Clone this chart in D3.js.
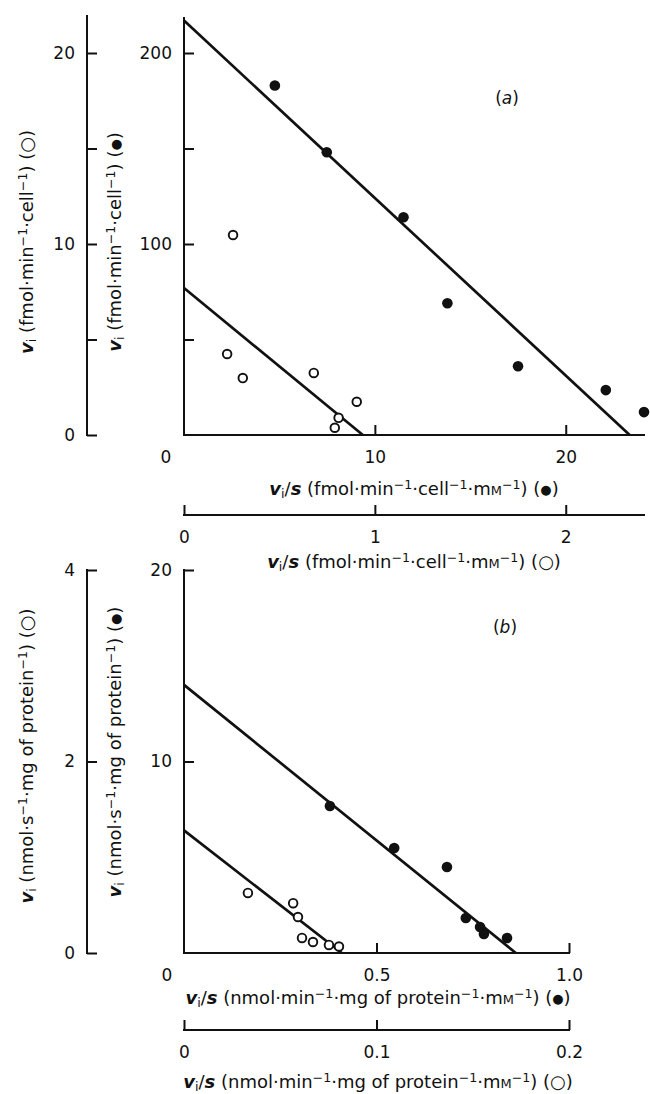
<!DOCTYPE html>
<html>
<head>
<meta charset="utf-8">
<script src="https://cdn.jsdelivr.net/npm/d3@7/dist/d3.min.js"></script>
<style>
  body { margin: 0; background: #fff; }
  svg text { font-family: 'DejaVu Sans', Verdana, sans-serif; fill: #111; }
</style>
</head>
<body>
<div id="chart"></div>
<script>
// ---- data ----
// panel (a): filled circles (inner axes), open circles (outer axes)
var aFilledX = [4.76, 7.48, 11.5, 13.8, 17.5, 22.1, 24.1];
var aFilledY = [183, 148, 114, 69, 36, 23.5, 12];
var aOpenX = [0.257, 0.226, 0.308, 0.68, 0.905, 0.81, 0.79];
var aOpenY = [10.47, 4.24, 2.98, 3.25, 1.74, 0.9, 0.38];
var aFilledFitX = [0, 23.35], aFilledFitY = [217, 0];
var aOpenFitX = [0, 0.937], aOpenFitY = [7.7, 0];

// panel (b)
var bFilledX = [0.379, 0.546, 0.683, 0.732, 0.769, 0.779, 0.839];
var bFilledY = [7.68, 5.48, 4.49, 1.83, 1.36, 0.99, 0.78];
var bOpenX = [0.0332, 0.0567, 0.0592, 0.0613, 0.067, 0.0753, 0.0805];
var bOpenY = [0.627, 0.52, 0.376, 0.157, 0.115, 0.084, 0.068];
var bFilledFitX = [0, 0.862], bFilledFitY = [14.0, 0];
var bOpenFitX = [0, 0.082], bOpenFitY = [1.28, 0];

// ticks and labels
var aYFilledTicks = [50, 100, 150, 200], aYFilledLabels = ["", "100", "", "200"];
var aYOpenTicks = [0, 5, 10, 15, 20], aYOpenLabels = ["0", "", "10", "", "20"];
var aXFilledTicks = [10, 20], aXFilledLabels = ["10", "20"];
var aXOpenTicks = [0, 1, 2], aXOpenLabels = ["0", "1", "2"];
var bYFilledTicks = [10, 20], bYFilledLabels = ["10", "20"];
var bYOpenTicks = [0, 2, 4], bYOpenLabels = ["0", "2", "4"];
var bXFilledTicks = [0.5, 1.0], bXFilledLabels = ["0.5", "1.0"];
var bXOpenTicks = [0, 0.1, 0.2], bXOpenLabels = ["0", "0.1", "0.2"];

var W = 650, H = 1094;
var svg = d3.select("#chart").append("svg")
    .attr("width", W).attr("height", H);

var outerX = 87, innerX = 184;
var tickFont = 17, titleFont = 18;

// rich text helper: parts = [[text, style]]
function rich(sel, parts) {
    parts.forEach(function (p) {
        var t = sel.append("tspan").text(p[0]);
        if (p[1] == "it") t.style("font-style", "italic").style("font-weight", "bold");
        if (p[1] == "sub") t.attr("baseline-shift", "-25%").style("font-size", "0.7em");
        if (p[1] == "sup") t.attr("baseline-shift", "45%").style("font-size", "0.7em");
        if (p[1] == "sc") t.style("font-size", "0.72em");
        if (p[1] == "dot") t.style("font-size", "0.72em").attr("baseline-shift", "8%");
    });
}

function symParts(sym) {
    return [[" (", ""], [sym, sym == "\u25cf" ? "dot" : ""], [")", ""]];
}

function yAxis(g, scale, ticks, labels, x) {
    var ax = d3.axisLeft(scale).tickValues(ticks)
        .tickSizeInner(-10).tickSizeOuter(0).tickPadding(12)
        .tickFormat(function (d, i) { return labels[i]; });
    var gg = g.append("g").attr("transform", "translate(" + x + ",0)").call(ax);
    gg.select(".domain").remove();
    gg.selectAll("line").attr("stroke", "#111").attr("stroke-width", 2);
    gg.selectAll("text").style("font-size", tickFont + "px").attr("fill", "#111");
    return gg;
}

function xAxis(g, scale, ticks, labels, y) {
    var ax = d3.axisBottom(scale).tickValues(ticks)
        .tickSizeInner(-10).tickSizeOuter(0).tickPadding(16)
        .tickFormat(function (d, i) { return labels[i]; });
    var gg = g.append("g").attr("transform", "translate(0," + y + ")").call(ax);
    gg.select(".domain").remove();
    gg.selectAll("line").attr("stroke", "#111").attr("stroke-width", 2);
    gg.selectAll("text").style("font-size", tickFont + "px").attr("fill", "#111");
    return gg;
}

function seg(g, x1, y1, x2, y2, w) {
    g.append("line").attr("x1", x1).attr("y1", y1).attr("x2", x2).attr("y2", y2)
        .attr("stroke", "#111").attr("stroke-width", w || 2);
}

function fitLine(g, xs, ys, fx, fy) {
    g.append("line")
        .attr("x1", xs(fx[0])).attr("y1", ys(fy[0]))
        .attr("x2", xs(fx[1])).attr("y2", ys(fy[1]))
        .attr("stroke", "#111").attr("stroke-width", 2.7);
}

function dots(g, xs, ys, X, Y, filled) {
    g.selectAll(null).data(X).enter().append("circle")
        .attr("cx", function (d) { return xs(d); })
        .attr("cy", function (d, i) { return ys(Y[i]); })
        .attr("r", filled ? 5.3 : 4.3)
        .attr("fill", filled ? "#111" : "#fff")
        .attr("stroke", "#111")
        .attr("stroke-width", filled ? 0 : 1.9);
}

function yTitle(g, x, y, parts) {
    var t = g.append("text").attr("transform", "translate(" + x + "," + y + ") rotate(-90)")
        .attr("text-anchor", "middle").style("font-size", titleFont + "px");
    rich(t, parts);
}

function xTitle(g, x, y, parts) {
    var t = g.append("text").attr("x", x).attr("y", y)
        .attr("text-anchor", "middle").style("font-size", titleFont + "px");
    rich(t, parts);
}

var FILLED = "\u25cf", OPEN = "\u25cb";
function xTitleA(sym) {
    return [["v", "it"], ["i", "sub"], ["/", ""], ["s", "it"], [" (fmol\u00b7min", ""], ["\u22121", "sup"],
        ["\u00b7cell", ""], ["\u22121", "sup"], ["\u00b7m", ""], ["M", "sc"], ["\u22121", "sup"], [")", ""]].concat(symParts(sym));
}
function yTitleA(sym) {
    return [["v", "it"], ["i", "sub"], [" (fmol\u00b7min", ""], ["\u22121", "sup"],
        ["\u00b7cell", ""], ["\u22121", "sup"], [")", ""]].concat(symParts(sym));
}
function xTitleB(sym) {
    return [["v", "it"], ["i", "sub"], ["/", ""], ["s", "it"], [" (nmol\u00b7min", ""], ["\u22121", "sup"],
        ["\u00b7mg of protein", ""], ["\u22121", "sup"], ["\u00b7m", ""], ["M", "sc"], ["\u22121", "sup"], [")", ""]].concat(symParts(sym));
}
function yTitleB(sym) {
    return [["v", "it"], ["i", "sub"], [" (nmol\u00b7s", ""], ["\u22121", "sup"],
        ["\u00b7mg of protein", ""], ["\u22121", "sup"], [")", ""]].concat(symParts(sym));
}

// ================= panel (a) =================
var ga = svg.append("g");
var xaF = d3.scaleLinear().domain([0, 24.1]).range([innerX, 644]);
var xaO = d3.scaleLinear().domain([0, 2.41]).range([innerX, 644]);
var yaF = d3.scaleLinear().domain([0, 200]).range([435, 53]);
var yaO = d3.scaleLinear().domain([0, 20]).range([435, 53]);

// outer (open) y axis
seg(ga, outerX, 15, outerX, yaO(0) + 1);
yAxis(ga, yaO, aYOpenTicks, aYOpenLabels, outerX);
// inner (filled) y axis
seg(ga, innerX, 17, innerX, yaF(0) + 1);
yAxis(ga, yaF, aYFilledTicks, aYFilledLabels, innerX);
// x axes
seg(ga, innerX - 1, 435, 645, 435);
xAxis(ga, xaF, aXFilledTicks, aXFilledLabels, 435);
ga.append("text").attr("x", innerX - 18).attr("y", 463).attr("text-anchor", "middle")
    .style("font-size", tickFont + "px").text("0");
seg(ga, innerX - 1, 515, 645, 515);
xAxis(ga, xaO, aXOpenTicks, aXOpenLabels, 515);

xTitle(ga, 414, 495, xTitleA(FILLED));
xTitle(ga, 414, 568, xTitleA(OPEN));
yTitle(ga, 33, 242, yTitleA(OPEN));
yTitle(ga, 121, 242, yTitleA(FILLED));

fitLine(ga, xaF, yaF, aFilledFitX, aFilledFitY);
fitLine(ga, xaO, yaO, aOpenFitX, aOpenFitY);
dots(ga, xaF, yaF, aFilledX, aFilledY, true);
dots(ga, xaO, yaO, aOpenX, aOpenY, false);

var la = ga.append("text").attr("x", 507).attr("y", 104).attr("text-anchor", "middle").style("font-size", "17px");
la.append("tspan").text("(");
la.append("tspan").text("a").style("font-style", "italic");
la.append("tspan").text(")");

// ================= panel (b) =================
var gb = svg.append("g");
var xbF = d3.scaleLinear().domain([0, 1]).range([innerX, 569]);
var xbO = d3.scaleLinear().domain([0, 0.2]).range([innerX, 569]);
var ybF = d3.scaleLinear().domain([0, 20]).range([953, 570]);
var ybO = d3.scaleLinear().domain([0, 4]).range([953, 570]);

seg(gb, outerX, ybO(4) - 1, outerX, ybO(0) + 1);
yAxis(gb, ybO, bYOpenTicks, bYOpenLabels, outerX);
seg(gb, innerX, ybF(20) - 1, innerX, ybF(0) + 1);
yAxis(gb, ybF, bYFilledTicks, bYFilledLabels, innerX);

seg(gb, innerX - 1, 953, 570, 953);
xAxis(gb, xbF, bXFilledTicks, bXFilledLabels, 953);
gb.append("text").attr("x", innerX - 17).attr("y", 981).attr("text-anchor", "middle")
    .style("font-size", tickFont + "px").text("0");
seg(gb, innerX - 1, 1030, 570, 1030);
xAxis(gb, xbO, bXOpenTicks, bXOpenLabels, 1030);

xTitle(gb, 378, 1004, xTitleB(FILLED));
xTitle(gb, 378, 1088, xTitleB(OPEN));
yTitle(gb, 33, 756, yTitleB(OPEN));
yTitle(gb, 121, 752, yTitleB(FILLED));

fitLine(gb, xbF, ybF, bFilledFitX, bFilledFitY);
fitLine(gb, xbO, ybO, bOpenFitX, bOpenFitY);
dots(gb, xbF, ybF, bFilledX, bFilledY, true);
dots(gb, xbO, ybO, bOpenX, bOpenY, false);

var lb = gb.append("text").attr("x", 505).attr("y", 633).attr("text-anchor", "middle").style("font-size", "17px");
lb.append("tspan").text("(");
lb.append("tspan").text("b").style("font-style", "italic");
lb.append("tspan").text(")");
</script>
</body>
</html>
